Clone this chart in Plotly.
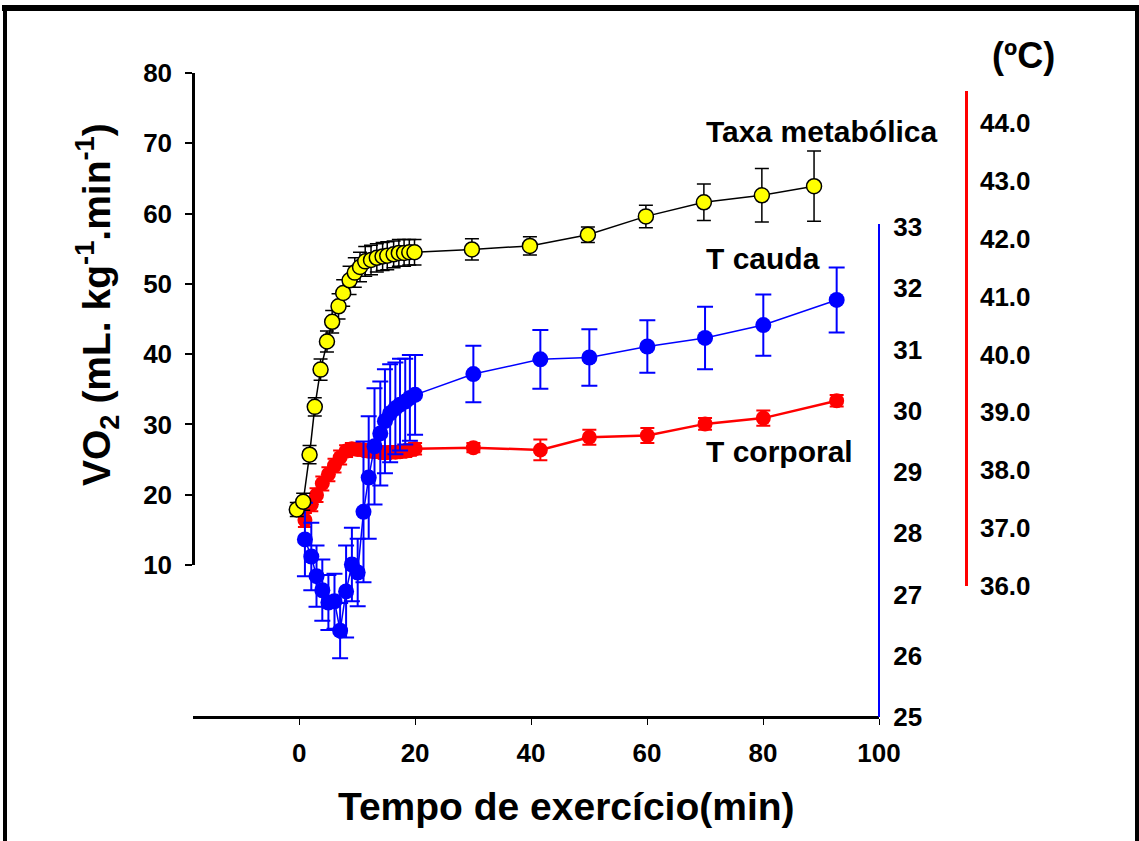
import plotly.graph_objects as go

# ---------------- data ----------------
t_vo2 = [-0.4, 0.7, 1.8, 2.7, 3.7, 4.8, 5.7, 6.8, 7.6, 8.7, 9.6, 10.5, 11.4, 12.4, 13.4,
         14.4, 15.2, 16.3, 17.2, 18.1, 19.0, 19.9, 29.8, 39.8, 49.8, 59.8, 69.8, 79.8, 88.8]
vo2 = [17.9, 19.0, 25.7, 32.5, 37.8, 41.8, 44.6, 46.8, 48.7, 50.5, 51.6, 52.4, 53.2, 53.4, 53.7,
       53.9, 54.0, 54.2, 54.4, 54.4, 54.5, 54.5, 54.9, 55.4, 57.0, 59.6, 61.6, 62.6, 63.9]
vo2_err = [1.0, 1.2, 1.3, 1.3, 1.5, 1.5, 1.6, 1.8, 1.9, 2.0, 2.1, 2.1, 2.1, 2.1, 2.0,
           2.0, 2.0, 1.9, 1.9, 1.9, 1.8, 1.8, 1.5, 1.3, 1.1, 1.6, 2.6, 3.8, 5.0]

t_temp = [1.0, 2.1, 3.0, 4.0, 5.05, 6.1, 7.07, 8.1, 9.1, 10.1, 11.1, 12.0, 13.0, 14.0,
          14.8, 15.7, 16.6, 17.4, 18.3, 19.1, 20.0, 30.05, 41.6, 50.05, 60.05, 70.0, 80.05, 92.7]
t_cauda = [27.90, 27.62, 27.30, 27.07, 26.87, 26.89, 26.41, 27.05, 27.49, 27.36, 28.35, 28.91,
           29.42, 29.63, 29.83, 29.96, 30.04, 30.10, 30.15, 30.21, 30.26, 30.60, 30.84, 30.87,
           31.05, 31.19, 31.40, 31.81]
t_cauda_err = [0.6, 0.55, 0.5, 0.5, 0.45, 0.45, 0.45, 0.75, 0.6, 0.55, 1.15, 1.0, 0.95, 0.85,
               0.85, 0.8, 0.75, 0.75, 0.7, 0.7, 0.65, 0.46, 0.48, 0.46, 0.43, 0.51, 0.5, 0.53]
t_corp = [37.14, 37.41, 37.57, 37.77, 37.93, 38.08, 38.22, 38.33, 38.37, 38.36, 38.35, 38.33,
          38.32, 38.31, 38.30, 38.31, 38.31, 38.32, 38.33, 38.35, 38.37, 38.39, 38.35, 38.57,
          38.60, 38.80, 38.90, 39.20]
t_corp_err = [0.12, 0.12, 0.12, 0.12, 0.12, 0.12, 0.12, 0.1, 0.1, 0.1, 0.1, 0.1, 0.1, 0.1,
              0.1, 0.1, 0.1, 0.1, 0.1, 0.1, 0.1, 0.08, 0.18, 0.13, 0.13, 0.1, 0.13, 0.1]

x_ticks = [0, 20, 40, 60, 80, 100]
vo2_ticks = [10, 20, 30, 40, 50, 60, 70, 80]
cauda_ticks = [25, 26, 27, 28, 29, 30, 31, 32, 33]
corp_ticks = [36, 37, 38, 39, 40, 41, 42, 43, 44]

# ---------------- layout geometry (pixels) ----------------
W, H = 1139, 841
L, T, R, B = 193, 73, 1000, 717
PW, PH = R - L, B - T


def px(x):
    return (x - L) / PW


def py(y):
    return (B - y) / PH


FONT = "Liberation Sans, Arial, sans-serif"
xdom_end = px(879)

fig = go.Figure()

# red (body temperature) on y (bottom layer)
fig.add_trace(go.Scatter(
    x=t_temp, y=t_corp, xaxis="x", yaxis="y", mode="lines+markers",
    line=dict(color="#ff0000", width=2.5),
    marker=dict(color="#ff0000", size=15),
    error_y=dict(type="data", array=t_corp_err, color="#ff0000", thickness=2, width=7),
    showlegend=False))

# blue (tail temperature) on y2
fig.add_trace(go.Scatter(
    x=t_temp, y=t_cauda, xaxis="x", yaxis="y2", mode="lines+markers",
    line=dict(color="#0000ff", width=1.5),
    marker=dict(color="#0000ff", size=16),
    error_y=dict(type="data", array=t_cauda_err, color="#0000ff", thickness=2, width=8),
    showlegend=False))

# yellow (VO2) on y3 (top layer)
fig.add_trace(go.Scatter(
    x=t_vo2, y=vo2, xaxis="x", yaxis="y3", mode="lines+markers",
    line=dict(color="#000000", width=1.5),
    marker=dict(color="#ffff00", size=15, line=dict(color="#000000", width=1.5)),
    error_y=dict(type="data", array=vo2_err, color="#000000", thickness=1.5, width=7),
    showlegend=False))

tickfont = dict(family=FONT, size=26, color="#000000", weight="bold")

fig.update_layout(
    width=W, height=H,
    margin=dict(l=L, r=W - R, t=T, b=H - B),
    paper_bgcolor="white", plot_bgcolor="rgba(0,0,0,0)",
    xaxis=dict(domain=[0, xdom_end], range=[-18.3, 100], anchor="free", position=0,
               showline=True, linecolor="#000000", linewidth=3,
               ticks="outside", ticklen=6, tickwidth=1, tickcolor="#000000",
               tickvals=x_ticks, tickfont=tickfont, ticklabelstandoff=6,
               showgrid=False, zeroline=False),
    yaxis=dict(domain=[py(586), py(91)], range=[36, 44.55], anchor="free", position=px(966),
               side="right", showline=True, linecolor="#ff0000", linewidth=2.5,
               ticks="", tickvals=corp_ticks, ticktext=[f"{v:.1f}" for v in corp_ticks],
               tickfont=tickfont, ticklabelstandoff=7,
               showgrid=False, zeroline=False),
    yaxis2=dict(domain=[0, py(224)], range=[25, 33.05], anchor="free", position=xdom_end,
                side="right", showline=True, linecolor="#0000ff", linewidth=2,
                ticks="", tickvals=cauda_ticks, tickfont=tickfont, ticklabelstandoff=8,
                showgrid=False, zeroline=False),
    yaxis3=dict(domain=[py(565), 1], range=[10, 80], anchor="free", position=0,
                showline=True, linecolor="#000000", linewidth=2.5,
                ticks="outside", ticklen=7, tickwidth=1.5, tickcolor="#000000",
                tickvals=vo2_ticks, tickfont=tickfont, ticklabelstandoff=8,
                showgrid=False, zeroline=False),
)

ann_font = dict(family=FONT, size=30, color="#000000", weight="bold")
title_font = dict(family=FONT, size=39, color="#000000", weight="bold")

annotations = [
    dict(text="Taxa metabólica", x=px(704), y=py(131), xanchor="left", yanchor="middle",
         font=ann_font),
    dict(text="T cauda", x=px(704), y=py(258), xanchor="left", yanchor="middle",
         font=ann_font),
    dict(text="T corporal", x=px(704), y=py(452), xanchor="left", yanchor="middle",
         font=ann_font),
    dict(text="(ºC)", x=px(1023), y=py(56), xanchor="center", yanchor="middle",
         font=dict(family=FONT, size=36, color="#000000", weight="bold")),
    dict(text="Tempo de exercício(min)", x=px(566), y=py(806), xanchor="center",
         yanchor="middle", font=title_font),
    dict(text="VO<sub>2</sub> (mL. kg<sup>-1</sup>.min<sup>-1</sup>)", x=px(97), y=py(305),
         xanchor="center", yanchor="middle", textangle=-90, font=title_font),
]
for a in annotations:
    a.update(xref="paper", yref="paper", showarrow=False)
fig.update_layout(annotations=annotations)

# outer frame (top, left, right)
frame = [
    dict(x0=px(2), x1=px(1139), y0=py(8), y1=py(8), w=6),
    dict(x0=px(5), x1=px(5), y0=py(5), y1=py(845), w=4),
    dict(x0=px(1137), x1=px(1137), y0=py(5), y1=py(845), w=4),
]
fig.update_layout(shapes=[
    dict(type="line", xref="paper", yref="paper", x0=f["x0"], x1=f["x1"], y0=f["y0"],
         y1=f["y1"], line=dict(color="#000000", width=f["w"]))
    for f in frame
])

fig.write_html(
    "out.html",
    config={"displayModeBar": False},
    post_script="document.body.style.margin='0';document.body.style.padding='0';"
                "document.documentElement.style.overflow='hidden';",
)
